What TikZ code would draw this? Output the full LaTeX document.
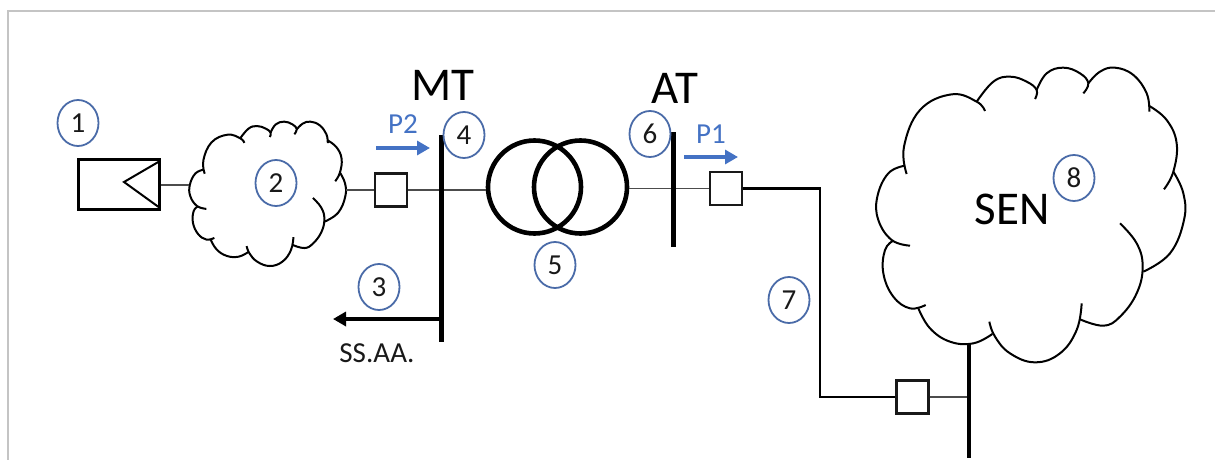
\documentclass[tikz,border=0pt]{standalone}
\usepackage{fontspec}
\setmainfont{Carlito}
\usetikzlibrary{shapes.geometric,arrows.meta}
\definecolor{ringblue}{HTML}{4A6BA8}
\definecolor{flowblue}{HTML}{4472C4}
\definecolor{framegrey}{HTML}{C4C4C4}
\newcommand{\cloudoutline}{%
 \draw[cloudline] plot[smooth,tension=.7] coordinates{(440,432)(432,350)(480,240)(575,193)(650,215)(675,243)};
 \draw[cloudline] plot[smooth,tension=.7] coordinates{(650,215)(700,155)(750,140)(800,155)(830,180)(825,207)};
 \draw[cloudline] plot[smooth,tension=.7] coordinates{(830,180)(860,130)(910,113)(960,130)(985,160)(970,190)};
 \draw[cloudline] plot[smooth,tension=.7] coordinates{(985,160)(1020,125)(1065,113)(1120,135)(1160,190)(1168,245)};
 \draw[cloudline] plot[smooth,tension=.7] coordinates{(1168,228)(1220,270)(1250,340)(1240,425)(1212,478)};
 \draw[cloudline] plot[smooth,tension=.7] coordinates{(1240,425)(1270,490)(1272,570)(1230,670)(1150,725)};
 \draw[cloudline] plot[smooth,tension=.7] coordinates{(1080,580)(1130,640)(1148,710)(1130,790)(1080,860)(1030,887)(960,868)};
 \draw[cloudline] plot[smooth,tension=.7] coordinates{(965,820)(950,900)(900,970)(825,997)(750,970)(705,920)(688,875)};
 \draw[cloudline] plot[smooth,tension=.7] coordinates{(697,912)(640,940)(570,935)(510,895)(475,835)};
 \draw[cloudline] plot[smooth,tension=.7] coordinates{(497,825)(450,835)(400,800)(370,730)(375,660)(400,632)};
 \draw[cloudline] plot[smooth,tension=.7] coordinates{(450,647)(395,630)(355,570)(352,500)(385,430)(435,407)};
}
\tikzset{
 cloudline/.style={draw=black,line width=2pt,line join=round},
 ring/.style={ellipse,draw=ringblue,line width=1.8pt,minimum width=41pt,minimum height=46pt,inner sep=0pt,font=\fontsize{29}{29}\selectfont,text=black!90},
 breaker/.style={rectangle,draw=black!90,line width=2.2pt,fill=white,minimum width=32pt,minimum height=33pt,inner sep=0pt},
 thinline/.style={draw=black!70,line width=1.2pt},
 feeder/.style={draw=black,line width=2.3pt,line join=miter},
 busbar/.style={draw=black,line width=5pt},
 flow/.style={draw=flowblue,line width=3.2pt,-{Triangle[length=13pt,width=14pt]}},
 coil/.style={circle,draw=black,line width=4.6pt,minimum size=93pt,inner sep=0pt},
 biglabel/.style={font=\fontsize{47}{47}\selectfont,text=black,inner sep=0pt},
 smalllabel/.style={font=\fontsize{29}{29}\selectfont,inner sep=0pt},
}
\begin{document}
\begin{tikzpicture}[x=1pt,y=-1pt]
\useasboundingbox (0,0) rectangle (1215,460);
\draw[framegrey,line width=2pt] (7.5,460) -- (7.5,11) -- (1215,11);

% coordinates
\coordinate (cloudAin) at (189,185);
\coordinate (cloudAout) at (346,190);
\coordinate (mtTop) at (441,135);
\coordinate (mtBottom) at (441,342);
\coordinate (mtMid) at (441,190);
\coordinate (mtAux) at (441,319);
\coordinate (auxEnd) at (333,319);
\coordinate (atTop) at (673,132);
\coordinate (atBottom) at (673,247);
\coordinate (atMid) at (673,188.5);
\coordinate (senTop) at (969,344);
\coordinate (senBottom) at (969,458);
\coordinate (senMid) at (969,397);
\coordinate (cornerA) at (820,188.5);
\coordinate (cornerB) at (820,397);

% source
\node[rectangle,draw=black,line width=2.2pt,minimum width=81pt,minimum height=50pt,inner sep=0pt] (source) at (119,184.5) {};
\coordinate (triTop) at (160,161);
\coordinate (triTip) at (124,182);
\coordinate (triBot) at (160,208);
\draw[feeder,line width=2pt] (triTop) -- (triTip) -- (triBot);

% clouds
\begin{scope}[shift={(130.35,103.2)},xscale=.169,yscale=.1633]
 \cloudoutline
\end{scope}
\begin{scope}[shift={(760,30)},xscale=1/3,yscale=1/3]
 \cloudoutline
\end{scope}

% breakers and transformer
\node[breaker] (brA) at (391,190) {};
\node[breaker] (brB) at (726,188.5) {};
\node[breaker] (brC) at (912.5,397) {};
\node[coil] (coilL) at (534.5,187) {};
\node[coil] (coilR) at (580.5,187) {};

% connectors
\draw[thinline] (source.east |- cloudAin) -- (cloudAin);
\draw[thinline] (cloudAout) -- (brA.west);
\draw[thinline] (brA.east) -- (mtMid) -- (coilL.west |- mtMid);
\draw[thinline] (coilR.east |- atMid) -- (atMid) -- (brB.west);
\draw[feeder] (brB.east) -- (cornerA) -- (cornerB) -- (brC.west);
\draw[thinline] (brC.east) -- (senMid);
\draw[busbar] (mtTop) -- (mtBottom);
\draw[busbar] (atTop) -- (atBottom);
\draw[busbar,line width=4.4pt] (senTop) -- (senBottom);
\draw[draw=black,line width=3.4pt,-{Triangle[length=13pt,width=14pt]}] (mtAux) -- (auxEnd);

% flows
\coordinate (p2a) at (376,148);
\coordinate (p2b) at (430,148);
\coordinate (p1a) at (684,157);
\coordinate (p1b) at (738,157);
\draw[flow] (p2a) -- (p2b);
\draw[flow] (p1a) -- (p1b);

% labels
\node[smalllabel,text=flowblue] (lP2) at (403,124) {P2};
\node[smalllabel,text=flowblue] (lP1) at (711,134) {P1};
\node[biglabel] (lMT) at (443,85) {MT};
\node[biglabel] (lAT) at (675,88) {AT};
\node[biglabel] (lSEN) at (1012,209) {SEN};
\node[smalllabel,text=black!90] (lSS) at (377,353) {SS.AA.};

% numbered rings
\node[ring] (n1) at (78,123) {1};
\node[ring] (n2) at (276,183) {2};
\node[ring] (n3) at (379,287) {3};
\node[ring] (n4) at (464,135) {4};
\node[ring] (n5) at (555,265) {5};
\node[ring] (n6) at (650,134) {6};
\node[ring] (n7) at (789,300) {7};
\node[ring] (n8) at (1074,178) {8};
\end{tikzpicture}
\end{document}
